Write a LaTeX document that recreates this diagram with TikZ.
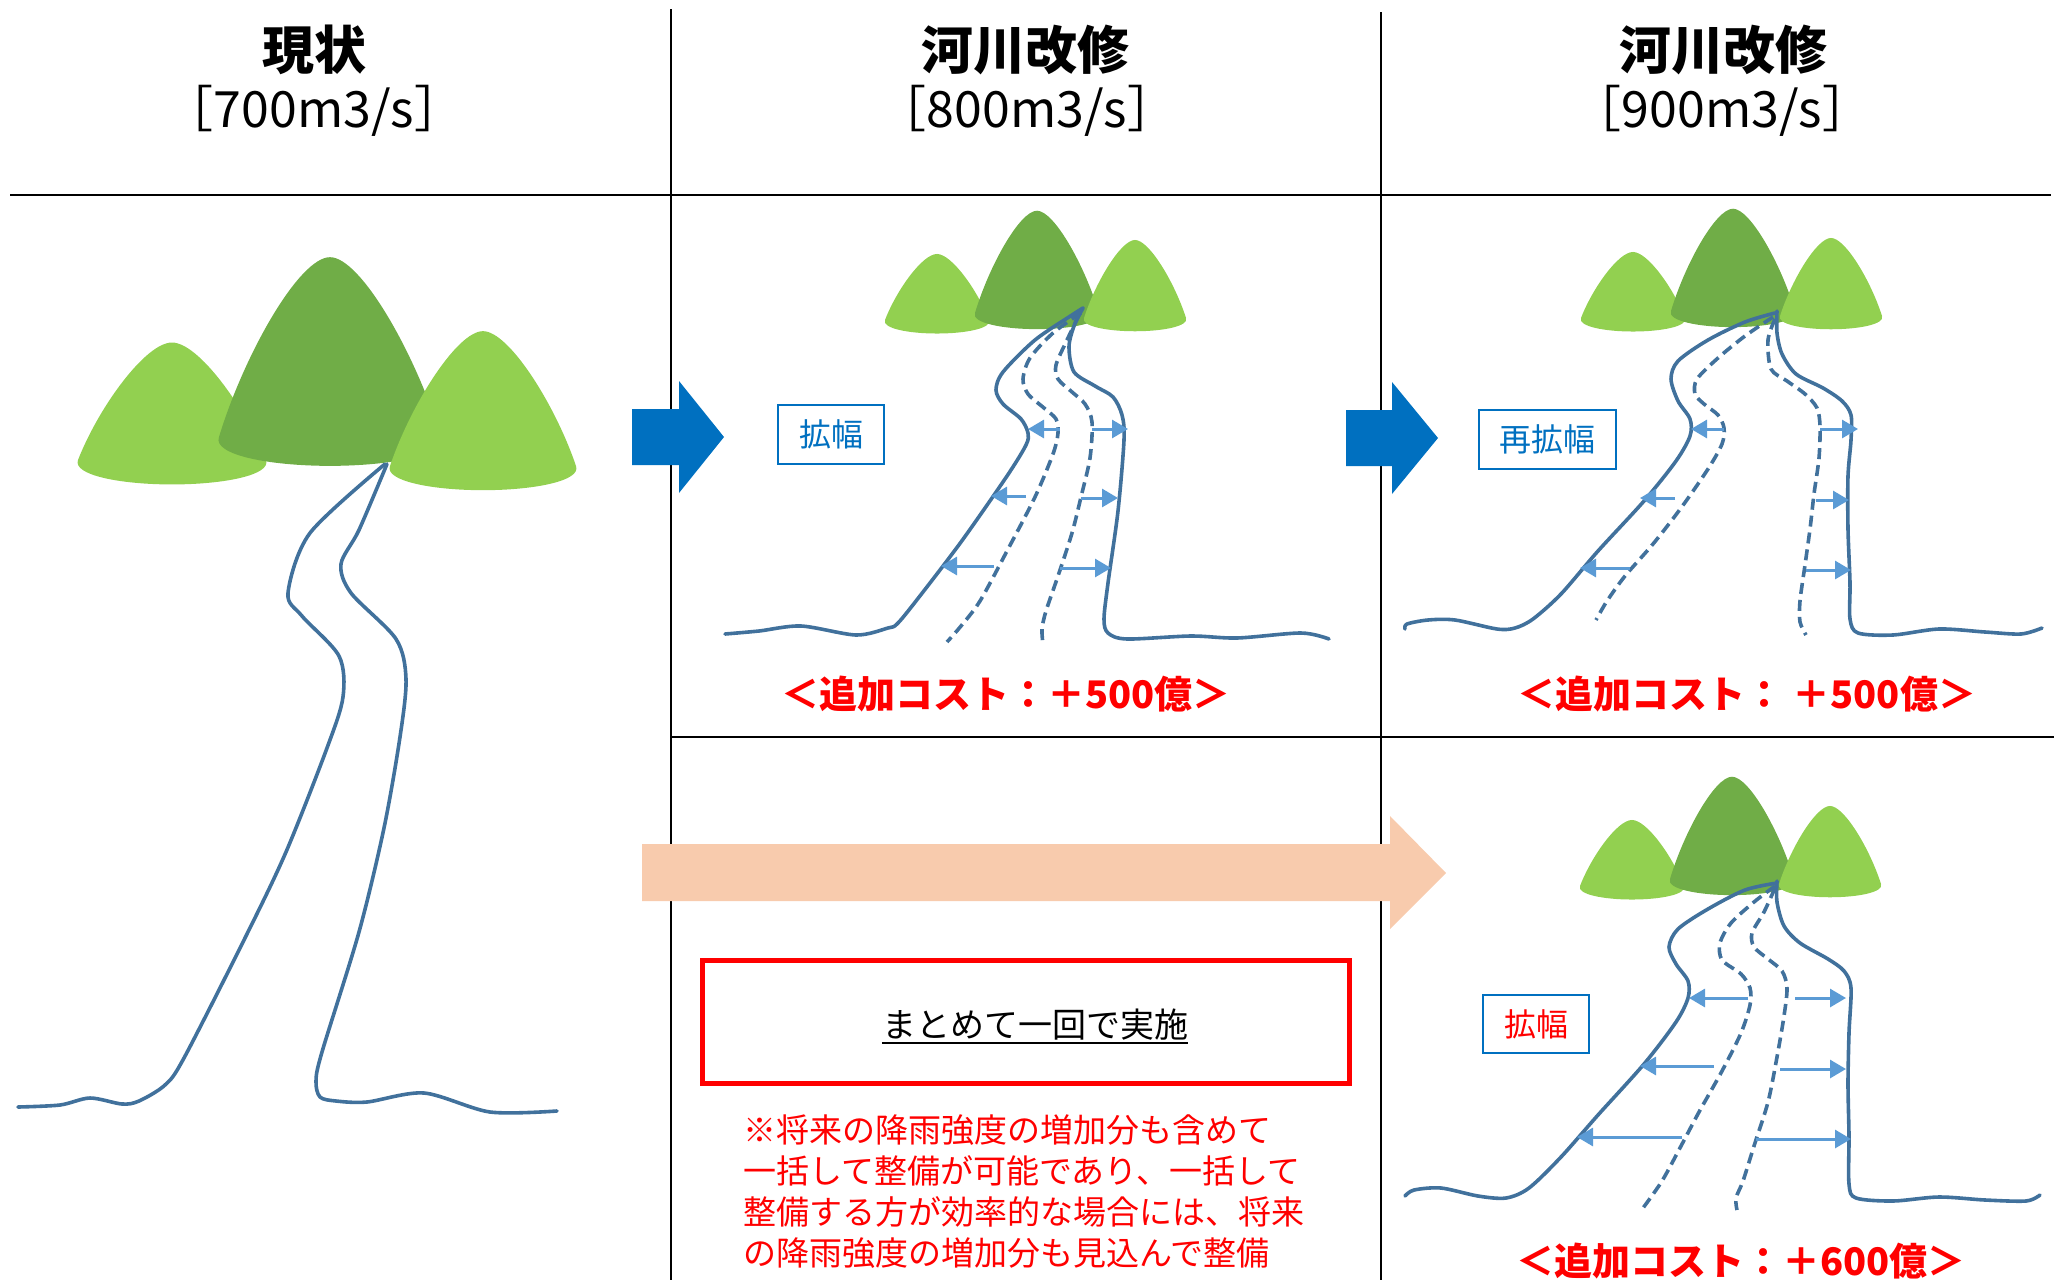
\documentclass[tikz,border=0pt]{standalone}
\usepackage{fontspec}
\newfontfamily\jp{Noto Sans CJK JP}
\usetikzlibrary{arrows.meta}

\definecolor{hilllight}{HTML}{92D050}
\definecolor{hilldark}{HTML}{70AD47}
\definecolor{riverblue}{HTML}{41719C}
\definecolor{flowblue}{HTML}{5B9BD5}
\definecolor{stepblue}{HTML}{0070C0}
\definecolor{peach}{HTML}{F8CBAD}

% one rounded hill: centre x, base y, half width, height/width, colour
\newcommand{\hill}[5]{%
  \fill[#5, shift={(#1,#2)}, scale=#3]
    (-1,0) .. controls (-0.78,{-0.45*#4}) and (-0.28,{-#4}) .. (0,{-#4})
    .. controls (0.28,{-#4}) and (0.78,{-0.45*#4}) .. (1,0)
    .. controls (1.06,0.16) and (0.55,0.26) .. (0,0.26)
    .. controls (-0.55,0.26) and (-1.06,0.16) .. (-1,0) -- cycle;}

% the three hills above a widened river
\newcommand{\hills}[2]{%
  \begin{scope}[shift={(#1,#2)}]
    \hill{1633}{318}{52}{1.27}{hilllight}
    \hill{1733}{311}{62}{1.65}{hilldark}
    \hill{1831}{316}{51}{1.53}{hilllight}
  \end{scope}}

\tikzset{
  river/.style={draw=riverblue, line width=3.6pt, line cap=round, line join=round},
  oldbank/.style={draw=riverblue, line width=3.6pt, dash pattern=on 11pt off 6pt},
  widen/.style={draw=flowblue, line width=3pt, -{Triangle[length=16pt,width=18pt]}},
  sepline/.style={line width=2pt},
  head/.style={font=\jp\bfseries\fontsize{52}{60}\selectfont},
  rate/.style={font=\jp\fontsize{50}{60}\selectfont},
  cost/.style={text=red, font=\jp\bfseries\fontsize{38}{46}\selectfont},
  tag/.style={draw=stepblue, line width=2pt, text=stepblue, inner sep=0pt,
    font=\jp\fontsize{32}{38}\selectfont},
  note/.style={text=red, align=left, inner sep=0pt, font=\jp\fontsize{33}{41}\selectfont},
}

\begin{document}
\begin{tikzpicture}[x=1pt, y=-1pt]
    \useasboundingbox (0,0) rectangle (2062,1280);

    % table lines
    \draw[sepline] (10,195) -- (2051,195);
    \draw[sepline] (671,737) -- (2054,737);
    \draw[line width=1.6pt] (671,9) -- (671,1280);
    \draw[line width=1.6pt] (1381,12) -- (1381,1280);

    % column heads
    \node[head] (now) at (314,50) {現状};
    \node[rate] (nowq) at (314,111) {［700m3/s］};
    \node[head] (fix1) at (1025,50) {河川改修};
    \node[rate] (fix1q) at (1027,111) {［800m3/s］};
    \node[head] (fix2) at (1723,50) {河川改修};
    \node[rate] (fix2q) at (1722,111) {［900m3/s］};

    % present river
    \hill{172}{460}{94}{1.25}{hilllight}
    \hill{330}{437}{111}{1.62}{hilldark}
    \hill{483}{466}{93}{1.45}{hilllight}
    \draw[river] plot[smooth] coordinates {(385,464) (310,533) (288,593) (302,616) (339,656) (343,697) (327,748) (286,852) (245,938) (184,1058) (165,1085) (139,1101) (122,1104) (90,1098) (60,1105) (18,1107)};
    \draw[river] plot[smooth] coordinates {(387,464) (359,530) (341,564) (351,593) (396,639) (406,679) (400,737) (384,828) (359,932) (322,1052) (316,1081) (320,1097) (336,1101) (367,1102) (424,1093) (490,1112) (557,1111)};

    % first widening
    \hills{-696}{2}
    \draw[river] plot[smooth] coordinates {(1083,308) (1072,315) (1035,340) (1003,372) (996,390) (1003,404) (1021,419) (1028,433) (1026,445) (1007,476) (961,542) (916,601) (897,624) (888,628) (856,635) (801,626) (759,631) (725,634)};
    \draw[river] plot[smooth] coordinates {(1083,308) (1074,326) (1069,347) (1074,372) (1095,386) (1113,397) (1122,415) (1124,440) (1118,511) (1108,583) (1104,619) (1108,633) (1127,639) (1191,636) (1237,638) (1301,633) (1329,639)};
    \draw[oldbank] plot[smooth] coordinates {(1081,313) (1053,333) (1030,358) (1023,379) (1028,394) (1044,408) (1056,419) (1058,433) (1053,454) (1035,497) (1007,551) (980,601) (961,626) (947,642)};
    \draw[oldbank] plot[smooth] coordinates {(1079,315) (1067,340) (1056,365) (1058,379) (1072,392) (1085,404) (1092,422) (1090,458) (1081,497) (1072,533) (1058,576) (1046,611) (1042,629) (1043,644)};
    \foreach \y/\a/\b in {429/1060/1028, 496/1026/991, 566/994/941, 429/1092/1128, 498/1081/1118, 568/1060/1111}
        \draw[widen] (\a,\y) -- (\b,\y);

    % second widening
    \hills{0}{0}
    \draw[river] plot[smooth] coordinates {(1775,313) (1745,322) (1708,340) (1678,361) (1671,379) (1678,401) (1690,419) (1690,436) (1676,461) (1644,501) (1598,551) (1561,594) (1533,619) (1515,628) (1497,629) (1455,620) (1428,620) (1407,624) (1405,629)};
    \draw[river] plot[smooth] coordinates {(1777,311) (1777,333) (1782,354) (1796,374) (1823,388) (1842,401) (1851,415) (1851,440) (1848,476) (1848,529) (1850,583) (1850,619) (1858,633) (1893,635) (1939,629) (1985,632) (2021,634) (2042,628)};
    \draw[oldbank] plot[smooth] coordinates {(1773,317) (1745,336) (1718,358) (1697,379) (1695,394) (1704,404) (1718,415) (1724,428) (1722,444) (1708,469) (1681,508) (1653,544) (1625,576) (1607,601) (1596,620)};
    \draw[oldbank] plot[smooth] coordinates {(1775,319) (1768,340) (1771,369) (1787,381) (1805,394) (1817,408) (1820,426) (1819,458) (1814,494) (1810,529) (1805,565) (1800,601) (1800,622) (1806,635)};
    \foreach \y/\a/\b in {429/1724/1691, 498/1675/1640, 568/1630/1580, 429/1820/1858, 500/1816/1849, 570/1806/1851}
        \draw[widen] (\a,\y) -- (\b,\y);

    % widening done at once
    \hills{-1}{568}
    \draw[river] plot[smooth] coordinates {(1777,883) (1745,890) (1708,909) (1678,929) (1669,947) (1676,964) (1688,981) (1688,998) (1676,1022) (1644,1064) (1598,1115) (1561,1157) (1529,1188) (1506,1198) (1478,1196) (1441,1188) (1414,1190) (1405,1196)};
    \draw[river] plot[smooth] coordinates {(1777,881) (1777,902) (1784,926) (1800,943) (1828,959) (1844,971) (1851,988) (1849,1033) (1848,1084) (1849,1136) (1849,1184) (1856,1198) (1893,1201) (1939,1197) (1985,1200) (2026,1201) (2040,1195)};
    \draw[oldbank] plot[smooth] coordinates {(1775,886) (1754,902) (1731,923) (1720,943) (1722,960) (1741,974) (1750,988) (1750,1005) (1741,1033) (1722,1071) (1699,1112) (1681,1146) (1662,1181) (1643,1208)};
    \draw[oldbank] plot[smooth] coordinates {(1775,888) (1764,912) (1752,933) (1754,947) (1768,959) (1782,971) (1787,988) (1784,1016) (1777,1057) (1768,1102) (1754,1146) (1743,1181) (1736,1198) (1737,1210)};
    \foreach \y/\a/\b in {998/1748/1689, 1066/1714/1640, 1137/1682/1577, 998/1795/1846, 1069/1780/1846, 1139/1756/1851}
        \draw[widen] (\a,\y) -- (\b,\y);

    % step arrows
    \fill[stepblue] (632,409) -- (679,409) -- (679,381) -- (724,437) -- (679,493) -- (679,465) -- (632,465) -- cycle;
    \fill[stepblue] (1346,410) -- (1392,410) -- (1392,382) -- (1438,438) -- (1392,494) -- (1392,466) -- (1346,466) -- cycle;
    \fill[peach] (642,844) -- (1390,844) -- (1390,816) -- (1446,873) -- (1390,929) -- (1390,901) -- (642,901) -- cycle;

    % labels
    \node[tag, minimum width=106pt, minimum height=59pt] (wide1) at (831,434.5) {拡幅};
    \node[tag, minimum width=137pt, minimum height=59pt] (wide2) at (1547,439.5) {再拡幅};
    \node[tag, text=red, minimum width=106pt, minimum height=58pt] (wide3) at (1536,1024) {拡幅};

    \node[cost] (cost1) at (1006,694) {＜追加コスト：＋500億＞};
    \node[cost] (cost2) at (1747,694) {＜追加コスト： ＋500億＞};
    \node[cost] (cost3) at (1741,1261) {＜追加コスト：＋600億＞};

    \draw[red, line width=5pt] (702,960) rectangle (1349,1083);
    \node[inner sep=0pt, font=\jp\fontsize{34}{40}\selectfont] (once) at (1035,1025) {まとめて一回で実施};
    \draw[line width=1.8pt] ([yshift=-2pt]once.south west) -- ([yshift=-2pt]once.south east);

    \node[note, anchor=west] (memo) at (743,1192) {※将来の降雨強度の増加分も含めて\\一括して整備が可能であり、一括して\\整備する方が効率的な場合には、将来\\の降雨強度の増加分も見込んで整備};
\end{tikzpicture}
\end{document}
